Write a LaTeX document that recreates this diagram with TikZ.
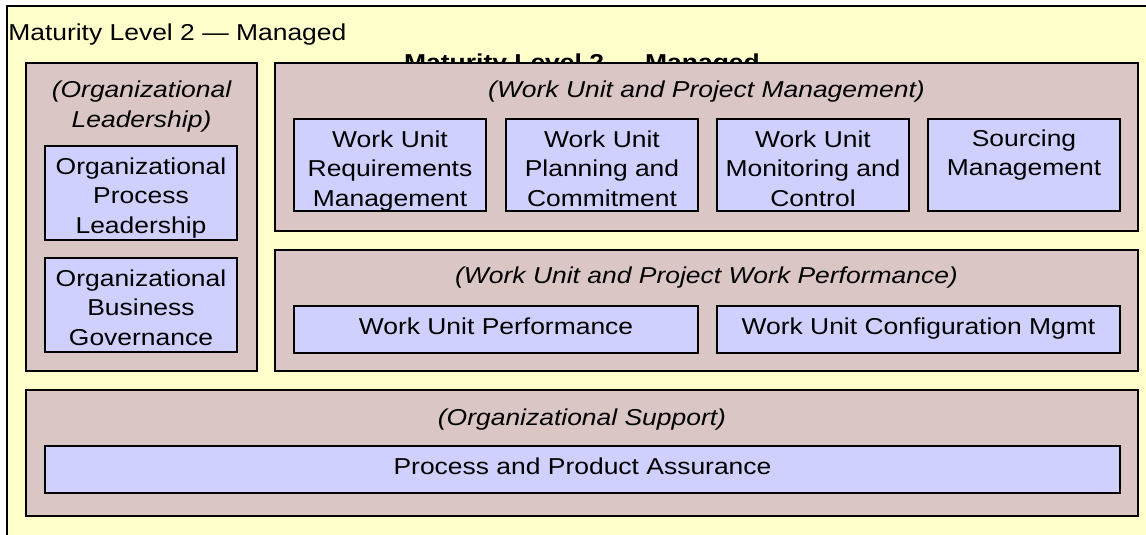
\documentclass[tikz,border=0pt]{standalone}
\usepackage{fontspec}
\setmainfont{Liberation Sans}[FakeStretch=1.15]
\usetikzlibrary{fit,calc}
\definecolor{bgyellow}{HTML}{FFFFCC}
\definecolor{panelrose}{HTML}{DBC6C6}
\definecolor{boxblue}{HTML}{D0D0FF}
\newcommand\firstline{\rule{0pt}{15pt}}
\begin{document}
\begin{tikzpicture}[x=0.75pt,y=-0.75pt,
  every node/.style={font=\fontsize{17.25}{22.1}\selectfont},
  panel/.style={draw=black, line width=1.5pt, fill=panelrose, inner sep=0pt, outer sep=0pt},
  pabox/.style={draw=black, line width=1pt, fill=boxblue, inner sep=0pt, outer sep=0pt},
  txt/.style={inner sep=0pt, anchor=north, align=center},
  ttl/.style={txt, font=\fontsize{17.25}{22.5}\selectfont\itshape},
]
\useasboundingbox (0,0) rectangle (1146,535);
\begin{scope}
\clip (0,0) rectangle (1146,535);
\fill[bgyellow] (7,6) rectangle (1160,550);
\draw[line width=1.5pt] (7,550) -- (7,6) -- (1160,6);
\end{scope}
% level titles
\node[anchor=base west, inner sep=0pt] (lvl) at (8,40.5) {Maturity Level 2 — Managed};
\node[anchor=base, inner sep=0pt, font=\fontsize{17.25}{22.1}\selectfont\bfseries] (lvlb) at (582,70) {Maturity Level 2 — Managed};
% panels
\node[panel, fit={(26,63)(257,371)}] (pl) {};
\node[panel, fit={(275,63)(1138,231)}] (pm) {};
\node[panel, fit={(275,250)(1138,371)}] (pw) {};
\node[panel, fit={(26,390)(1138,516)}] (ps) {};
% boxes
\node[pabox, fit={(45,146)(237,240)}] (opl) {};
\node[pabox, fit={(45,258)(237,352)}] (obg) {};
\node[pabox, fit={(294,119)(486,211)}] (wur) {};
\node[pabox, fit={(506,119)(698,211)}] (wup) {};
\node[pabox, fit={(717,119)(909,211)}] (wum) {};
\node[pabox, fit={(928,119)(1120,211)}] (sm) {};
\node[pabox, fit={(294,306)(698,353)}] (wpf) {};
\node[pabox, fit={(717,306)(1120,353)}] (wcm) {};
\node[pabox, fit={(45,446)(1120,493)}] (ppa) {};
% panel titles
\node[ttl] (tpl) at ($(pl.north)+(0,14)$) {\firstline(Organizational\\Leadership)};
\node[ttl] (tpm) at ($(pm.north)+(0,14)$) {\firstline(Work Unit and Project Management)};
\node[ttl] (tpw) at ($(pw.north)+(0,13)$) {\firstline(Work Unit and Project Work Performance)};
\node[ttl] (tps) at ($(ps.north)+(0,15)$) {\firstline(Organizational Support)};
% box texts
\node[txt] (topl) at ($(opl.north)+(0,8)$) {\firstline Organizational\\Process\\Leadership};
\node[txt] (tobg) at ($(obg.north)+(0,8)$) {\firstline Organizational\\Business\\Governance};
\node[txt] (twur) at ($(wur.north)+(0,8)$) {\firstline Work Unit\\Requirements\\Management};
\node[txt] (twup) at ($(wup.north)+(0,8)$) {\firstline Work Unit\\Planning and\\Commitment};
\node[txt] (twum) at ($(wum.north)+(0,8)$) {\firstline Work Unit\\Monitoring and\\Control};
\node[txt] (tsm) at ($(sm.north)+(0,7)$) {\firstline Sourcing\\Management};
\node[txt] (twpf) at ($(wpf.north)+(0,8)$) {\firstline Work Unit Performance};
\node[txt] (twcm) at ($(wcm.north)+(0,8)$) {\firstline Work Unit Configuration Mgmt};
\node[txt] (tppa) at ($(ppa.north)+(0,8)$) {\firstline Process and Product Assurance};
\end{tikzpicture}
\end{document}
